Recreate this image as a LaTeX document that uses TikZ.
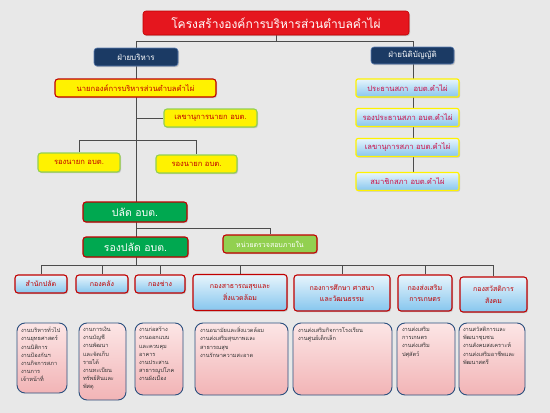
\documentclass[tikz,border=0pt]{standalone}
\usepackage{fontspec}
\newfontfamily\thai[Script=Thai]{Loma}
\usetikzlibrary{shadows}
\pgfdeclarelayer{bg}
\pgfdeclarelayer{lines}
\pgfsetlayers{bg,lines,main}
\definecolor{bgc}{HTML}{E8E8E8}
\definecolor{tred}{HTML}{E5161E}
\definecolor{dred}{HTML}{C00000}
\definecolor{navy}{HTML}{1B3A64}
\definecolor{navyb}{HTML}{5B7DB1}
\definecolor{ygreen}{HTML}{92D050}
\definecolor{gfill}{HTML}{00A850}
\definecolor{blt}{HTML}{E8F5FC}
\definecolor{blb}{HTML}{86C6EE}
\definecolor{pkt}{HTML}{FCE6E6}
\definecolor{pkb}{HTML}{F2B4B6}
\definecolor{wborder}{HTML}{2A4F7E}
\definecolor{legtxt}{HTML}{CC1048}
\newcommand{\wk}[3]{\parbox[c][#2pt][t]{#1pt}{\raggedright\fontsize{5.6}{8.2}\selectfont #3}}
\begin{document}
\begin{tikzpicture}[x=1pt,y=-1pt,font=\thai,
  box/.style={rounded corners=3pt,inner sep=1pt,align=center,
    drop shadow={shadow xshift=1pt,shadow yshift=-1.2pt,opacity=0.35}},
  titlebox/.style={box,fill=tred,draw=dred,line width=0.6pt,text=white,font=\thai\fontsize{12}{14}\selectfont},
  navybox/.style={box,fill=navy,draw=navyb,line width=0.6pt,text=white,font=\thai\fontsize{8}{9}\selectfont},
  yred/.style={box,fill=yellow,draw=dred,line width=1.1pt,text=dred,font=\thai\fontsize{7.6}{9}\selectfont},
  ygrn/.style={box,fill=yellow,draw=ygreen,line width=1.1pt,text=dred,font=\thai\fontsize{7.6}{9}\selectfont},
  grnbox/.style={box,fill=gfill,draw=dred,line width=1.1pt,text=white,font=\thai\fontsize{10.5}{12}\selectfont},
  auditbox/.style={box,fill=ygreen,draw=dred,line width=1.1pt,text=white,font=\thai\fontsize{7}{8}\selectfont},
  divbox/.style={box,top color=blt,bottom color=blb,draw=dred,line width=1.1pt,text=dred,font=\thai\fontsize{7}{11.5}\selectfont},
  legbox/.style={box,rounded corners=2pt,top color=blt,bottom color=blb,draw=yellow,line width=1.2pt,text=legtxt,font=\thai\fontsize{7.6}{9}\selectfont},
  workbox/.style={rounded corners=8pt,inner sep=0pt,top color=pkt,bottom color=pkb,draw=wborder,line width=0.9pt,text=black!80},
  conn/.style={draw=black!70,line width=0.6pt}]
\begin{pgfonlayer}{bg}
\fill[bgc] (0,0) rectangle (550,413);
\end{pgfonlayer}
\useasboundingbox (0,0) rectangle (550,413);

% title and sides
\node[titlebox,minimum width=266,minimum height=24] (title) at (276,23) {โครงสร้างองค์การบริหารส่วนตำบลคำไผ่};
\node[navybox,minimum width=84,minimum height=18] (exec) at (136,57) {ฝ่ายบริหาร};
\node[navybox,minimum width=83,minimum height=17] (leg) at (412.5,55.5) {ฝ่ายนิติบัญญัติ};

% executive side
\node[yred,minimum width=161,minimum height=18] (nayok) at (135.5,88) {นายกองค์การบริหารส่วนตำบลคำไผ่};
\node[ygrn,minimum width=93,minimum height=18] (sec) at (210.5,118) {เลขานุการนายก อบต.};
\node[ygrn,minimum width=82,minimum height=19] (dep1) at (79,162.5) {รองนายก อบต.};
\node[ygrn,minimum width=81,minimum height=18] (dep2) at (196.5,164) {รองนายก อบต.};
\node[grnbox,minimum width=104,minimum height=20] (palad) at (135,212) {ปลัด อบต.};
\node[grnbox,minimum width=105,minimum height=20] (rpalad) at (135.5,247) {รองปลัด อบต.};
\node[auditbox,minimum width=94,minimum height=18] (audit) at (270,244) {หน่วยตรวจสอบภายใน};

% legislative side
\node[legbox,minimum width=103,minimum height=18] (pres) at (407.5,88) {ประธานสภา\ \ อบต.คำไผ่};
\node[legbox,minimum width=103,minimum height=18] (vpres) at (407.5,117.5) {รองประธานสภา อบต.คำไผ่};
\node[legbox,minimum width=103,minimum height=18] (lsec) at (407.5,147.5) {เลขานุการสภา อบต.คำไผ่};
\node[legbox,minimum width=103,minimum height=18] (mem) at (407.5,181.5) {สมาชิกสภา อบต.คำไผ่};

% divisions
\node[divbox,minimum width=52,minimum height=18] (d1) at (41,284) {สำนักปลัด};
\node[divbox,minimum width=52,minimum height=18] (d2) at (102,284) {กองคลัง};
\node[divbox,minimum width=50,minimum height=18] (d3) at (160,284) {กองช่าง};
\node[divbox,minimum width=94,minimum height=36] (d4) at (240,292.5) {กองสาธารณสุขและ\\สิ่งแวดล้อม};
\node[divbox,minimum width=96,minimum height=36] (d5) at (342,293) {กองการศึกษา ศาสนา\\และวัฒนธรรม};
\node[divbox,minimum width=54,minimum height=36] (d6) at (425,293) {กองส่งเสริม\\การเกษตร};
\node[divbox,minimum width=67,minimum height=35] (d7) at (493.5,294.5) {กองสวัสดิการ\\สังคม};

% work boxes
\node[workbox,minimum width=50,minimum height=70] (w1) at (42,358) {\wk{42}{62}{งานบริหารทั่วไป\\งานยุทธศาสตร์\\งานนิติการ\\งานป้องกันฯ\\งานกิจการสภา\\งานการ\\เจ้าหน้าที่}};
\node[workbox,minimum width=47,minimum height=77] (w2) at (102.5,361.5) {\wk{39}{69}{งานการเงิน\\งานบัญชี\\งานพัฒนา\\และจัดเก็บ\\รายได้\\งานทะเบียน\\ทรัพย์สินและ\\พัสดุ}};
\node[workbox,minimum width=48,minimum height=72] (w3) at (159,359) {\wk{40}{64}{งานก่อสร้าง\\งานออกแบบ\\และควบคุม\\อาคาร\\งานประสาน\\สาธารณูปโภค\\งานผังเมือง}};
\node[workbox,minimum width=93,minimum height=72] (w4) at (241.5,359) {\wk{83}{64}{งานอนามัยและสิ่งแวดล้อม\\งานส่งเสริมสุขภาพและ\\สาธารณสุข\\งานรักษาความสะอาด}};
\node[workbox,minimum width=99,minimum height=72] (w5) at (342.5,359) {\wk{89}{64}{งานส่งเสริมกิจการโรงเรียน\\งานศูนย์เด็กเล็ก}};
\node[workbox,minimum width=58,minimum height=72] (w6) at (426,359) {\wk{48}{64}{งานส่งเสริม\\การเกษตร\\งานส่งเสริม\\ปศุสัตว์}};
\node[workbox,minimum width=66,minimum height=72] (w7) at (492,359) {\wk{58}{64}{งานสวัสดิการและ\\พัฒนาชุมชน\\งานสังคมสงเคราะห์\\งานส่งเสริมอาชีพและ\\พัฒนาสตรี}};

% junctions
\coordinate (barL) at (136,41);
\coordinate (barR) at (413,41);
\coordinate (depbar) at (136,140);
\coordinate (audbar) at (136,228);
\coordinate (divbar) at (136,265);

\begin{pgfonlayer}{lines}
\draw[conn] (title.south) -- (title.south |- barL);
\draw[conn] (barL) -- (barR);
\draw[conn] (barL) -- (divbar);
\draw[conn] (barR) -- (barR |- mem.center);
\draw[conn] (sec.west) -- (sec.west -| barL);
\draw[conn] (dep1.north) -- (dep1.north |- depbar) -- (dep2.north |- depbar) -- (dep2.north);
\draw[conn] (audbar) -- (audbar -| audit.north) -- (audit.north);
\draw[conn] (d1.north |- divbar) -- (d7.north |- divbar);
\foreach \d in {d1,d2,d3,d4,d5,d6,d7}{\draw[conn] (\d.north) -- (\d.north |- divbar);}
\end{pgfonlayer}
\end{tikzpicture}
\end{document}
